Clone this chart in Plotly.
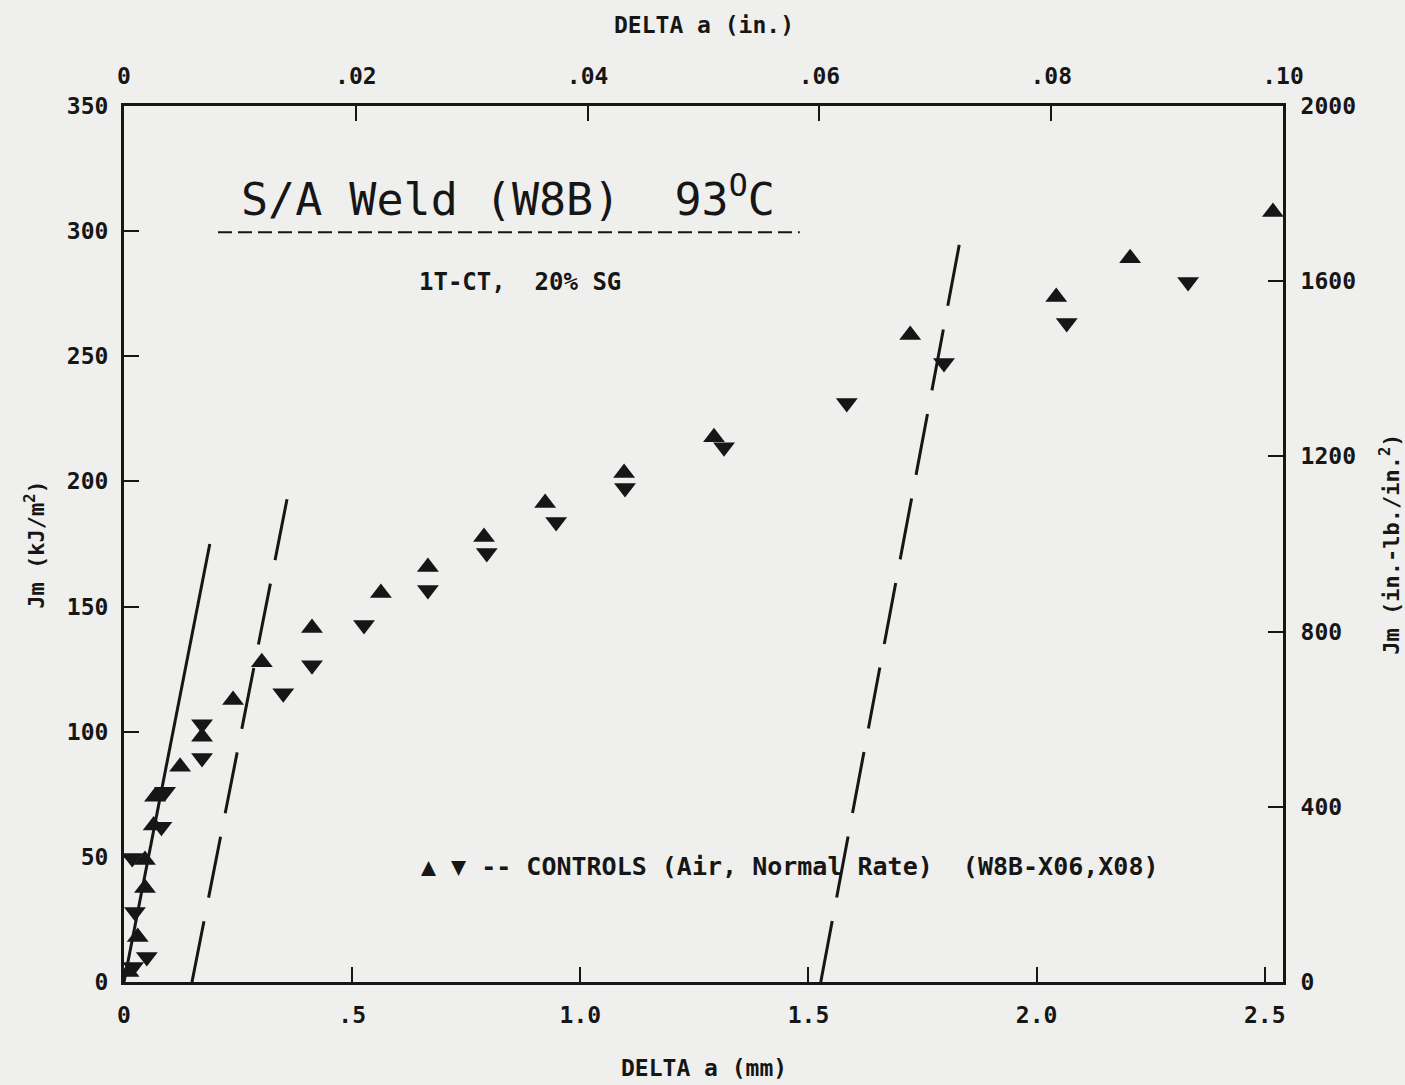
import plotly.graph_objects as go

# ---- data (Delta a in mm, Jm in kJ/m^2) ----
up_x = [0.01, 0.03, 0.046, 0.046, 0.065, 0.068, 0.123, 0.171, 0.239, 0.302, 0.412,
        0.563, 0.666, 0.789, 0.923, 1.096, 1.293, 1.723, 2.043, 2.205, 2.518]
up_y = [4, 18, 37.6, 48.7, 62.5, 74, 86, 98, 112.7, 127.8, 141.4,
        155.4, 165.8, 177.8, 191.4, 203.4, 217.7, 258.5, 273.7, 289.2, 307.6]

dn_x = [0.02, 0.05, 0.024, 0.018, 0.082, 0.09, 0.171, 0.171, 0.349, 0.412, 0.526,
        0.666, 0.795, 0.947, 1.098, 1.315, 1.584, 1.797, 2.066, 2.332]
dn_y = [6, 10, 28, 49.5, 62, 76, 89.5, 103, 115.4, 126.6, 142.6,
        156.6, 171.4, 183.8, 197.4, 213.7, 231.3, 247.3, 263.3, 279.7]

# construction lines (blunting line and exclusion lines)
blunt_x = [0.0, 0.188]
blunt_y = [0.0, 175.0]
excl1_x = [0.149, 0.366]
excl1_y = [0.0, 201.0]
excl2_x = [1.527, 1.832]
excl2_y = [0.0, 296.0]

# axis ticks
x_mm_vals = [0, 0.5, 1.0, 1.5, 2.0, 2.5]
x_mm_text = ["0", ".5", "1.0", "1.5", "2.0", "2.5"]
x_in_vals = [0, 0.02, 0.04, 0.06, 0.08, 0.10]
x_in_text = ["0", ".02", ".04", ".06", ".08", ".10"]
y_kj_vals = [0, 50, 100, 150, 200, 250, 300, 350]
y_in_vals = [0, 400, 800, 1200, 1600, 2000]

INK = "#161616"
BG = "#efefed"
TICKFONT = dict(family="DejaVu Sans Mono", size=23, color=INK, weight="bold")

fig = go.Figure()

fig.add_trace(go.Scatter(x=blunt_x, y=blunt_y, mode="lines",
                         line=dict(color=INK, width=3), hoverinfo="skip"))
fig.add_trace(go.Scatter(x=excl1_x, y=excl1_y, mode="lines",
                         line=dict(color=INK, width=3, dash="62px,24px"), hoverinfo="skip"))
fig.add_trace(go.Scatter(x=excl2_x, y=excl2_y, mode="lines",
                         line=dict(color=INK, width=3, dash="62px,24px"), hoverinfo="skip"))

fig.add_trace(go.Scatter(x=up_x, y=up_y, mode="markers", name="X06",
                         marker=dict(symbol="triangle-up", size=19, color=INK)))
fig.add_trace(go.Scatter(x=dn_x, y=dn_y, mode="markers", name="X08",
                         marker=dict(symbol="triangle-down", size=19, color=INK)))

# invisible trace for the secondary (top/right) axes
fig.add_trace(go.Scatter(x=[0], y=[0], xaxis="x2", yaxis="y2", mode="markers",
                         marker=dict(opacity=0), hoverinfo="skip"))

axis_common = dict(showgrid=False, zeroline=False, showline=True, linecolor=INK,
                   linewidth=3, ticks="inside", ticklen=15, tickwidth=2,
                   tickcolor=INK, tickfont=TICKFONT)

fig.update_layout(
    width=1405, height=1085,
    margin=dict(l=124, r=122, t=106, b=103),
    paper_bgcolor=BG, plot_bgcolor=BG,
    showlegend=False,
    xaxis=dict(range=[0, 2.54], tickvals=x_mm_vals, ticktext=x_mm_text,
               side="bottom", ticklabelstandoff=10, **axis_common),
    xaxis2=dict(range=[0, 0.10], tickvals=x_in_vals, ticktext=x_in_text,
                side="top", overlaying="x", anchor="y", ticklabelstandoff=10,
                **axis_common),
    yaxis=dict(range=[0, 350], tickvals=y_kj_vals, side="left",
               ticklabelstandoff=8, **axis_common),
    yaxis2=dict(range=[0, 2000], tickvals=y_in_vals, side="right",
                overlaying="y", anchor="x", ticklabelstandoff=10, **axis_common),
)

ann_font = dict(family="DejaVu Sans Mono", color=INK)
C = dict(showarrow=False, xanchor="center", yanchor="middle")

annotations = [
    dict(x=0.5, y=-0.098, xref="paper", yref="paper", text="<b>DELTA a (mm)</b>",
         font=dict(size=23, **ann_font), **C),
    dict(x=0.5, y=1.0925, xref="paper", yref="paper", text="<b>DELTA a (in.)</b>",
         font=dict(size=23, **ann_font), **C),
    dict(x=-0.077, y=0.5, xref="paper", yref="paper", text="<b>Jm (kJ/m<sup>2</sup>)</b>",
         textangle=-90, font=dict(size=22, **ann_font), **C),
    dict(x=1.092, y=0.5, xref="paper", yref="paper",
         text="<b>Jm (in.-lb./in.<sup>2</sup>)</b>",
         textangle=-90, font=dict(size=22, **ann_font), **C),
    dict(x=0.842, y=314, xref="x", yref="y", text="S/A Weld (W8B)  93<sup>O</sup>C",
         font=dict(size=45, **ann_font), **C),
    dict(x=0.868, y=279.7, xref="x", yref="y", text="<b>1T-CT,  20% SG</b>",
         font=dict(size=24, **ann_font), **C),
    dict(x=1.46, y=46.3, xref="x", yref="y",
         text="<b>\u25B2 \u25BC -- CONTROLS (Air, Normal Rate)  (W8B-X06,X08)</b>",
         font=dict(size=25, **ann_font), **C),
]
fig.update_layout(annotations=annotations)

# dashed underline of the title
fig.add_shape(type="line", x0=0.206, x1=1.481, y0=299.6, y1=299.6, xref="x", yref="y",
              line=dict(color=INK, width=2, dash="14px,6px"))

fig.write_html("out.html", config={"displayModeBar": False},
               post_script="document.body.style.margin='0';")
